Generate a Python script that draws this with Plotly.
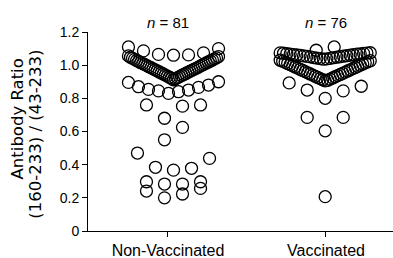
import numpy as np
import plotly.graph_objects as go

# ---------------- data ----------------
categories = ["Non-Vaccinated", "Vaccinated"]
count_labels = ["<i>n</i> = 81", "<i>n</i> = 76"]

nonvacc_ratio = [
    # upper scattered row
    1.11, 1.086, 1.06, 1.062, 1.065, 1.074, 1.10,
    # dense band
    0.912, 0.918, 0.921, 0.925, 0.927, 0.931, 0.934, 0.938, 0.940, 0.944,
    0.947, 0.950, 0.953, 0.957, 0.959, 0.963, 0.966, 0.969, 0.972, 0.975,
    0.978, 0.981, 0.985, 0.987, 0.990, 0.994, 0.997, 1.000, 1.003, 1.006,
    1.009, 1.013, 1.015, 1.019, 1.022, 1.025, 1.028, 1.031, 1.035, 1.038,
    1.041, 1.044, 1.048, 1.052, 1.056,
    # lower values
    0.896, 0.87, 0.854, 0.845, 0.83, 0.84, 0.85, 0.866, 0.88, 0.90,
    0.68, 0.753, 0.76, 0.76,
    0.55, 0.625,
    0.367, 0.378, 0.384, 0.438, 0.47,
    0.283, 0.283, 0.297, 0.297,
    0.20, 0.223, 0.241, 0.257,
]

vacc_ratio = [
    1.09, 1.11,
    1.036, 1.038, 1.040, 1.041, 1.043, 1.045, 1.046, 1.048, 1.050, 1.051,
    1.053, 1.054, 1.056, 1.057, 1.059, 1.060, 1.062, 1.063, 1.064, 1.066,
    1.067, 1.068, 1.070, 1.071, 1.072, 1.073, 1.074, 1.075,
    0.905, 0.909, 0.912, 0.916, 0.919, 0.923, 0.926, 0.930, 0.933, 0.937,
    0.940, 0.944, 0.947, 0.951, 0.954, 0.958, 0.961, 0.965, 0.968, 0.972,
    0.975, 0.979, 0.982, 0.986, 0.989, 0.993, 0.996, 1.000, 1.003, 1.007,
    1.010, 1.014, 1.017, 1.020, 1.024, 1.027, 1.030,
    0.80, 0.845, 0.85, 0.873, 0.893,
    0.604, 0.685, 0.685,
    0.207,
]

y_tickvals = [0, 0.2, 0.4, 0.6, 0.8, 1.0, 1.2]
y_ticktext = ["0", "0.2", "0.4", "0.6", "0.8", "1.0", "1.2"]

# ---------------- layout of the dot columns ----------------
row_edges = [
    [0.27, 0.33, 0.5, 0.65, 0.8, 0.906, 1.058],
    [0.5, 0.75, 0.9, 1.034, 1.085],
]
group_center = [0.035, -0.005]
STEP = 0.114
HALF_MAX = 0.285


def swarm(values, edges, center, step=STEP, half_max=HALF_MAX):
    vals = np.asarray(values, dtype=float)
    bins = np.digitize(vals, edges)
    xs = np.zeros(len(vals))
    for b in np.unique(bins):
        idx = np.where(bins == b)[0]
        idx = idx[np.argsort(vals[idx], kind="stable")]
        n = len(idx)
        s = step if n == 1 else min(step, 2 * half_max / (n - 1))
        for k, i in enumerate(idx):
            if n % 2:
                off = 0 if k == 0 else ((k + 1) // 2 if k % 2 else -(k // 2))
            else:
                off = -(k // 2 + 0.5) if k % 2 == 0 else (k // 2 + 0.5)
            xs[i] = center + off * s
    return xs


fig = go.Figure()
for gi, vals in enumerate([nonvacc_ratio, vacc_ratio]):
    xs = swarm(vals, row_edges[gi], gi + group_center[gi])
    fig.add_trace(go.Scatter(
        x=xs, y=vals, mode="markers", cliponaxis=False,
        marker=dict(symbol="circle-open", size=12, color="black",
                    line=dict(width=1.3, color="black")),
        showlegend=False, hoverinfo="y",
    ))

for gi, lab in enumerate(count_labels):
    fig.add_annotation(x=gi, xref="x", y=1.05, yref="paper", text=lab,
                       showarrow=False, xanchor="center", yanchor="middle",
                       font=dict(family="Liberation Sans", size=15, color="black"))

# y title (two lines)
fig.add_annotation(x=-0.228, xref="paper", y=0.563, yref="paper",
                   text="Antibody Ratio", textangle=-90, showarrow=False,
                   xanchor="center", yanchor="middle",
                   font=dict(family="DejaVu Sans", size=16.5, color="black"))
fig.add_annotation(x=-0.172, xref="paper", y=0.487, yref="paper",
                   text="(160-233) / (43-233)", textangle=-90, showarrow=False,
                   xanchor="center", yanchor="middle",
                   font=dict(family="DejaVu Sans", size=16.5, color="black"))

fig.update_layout(
    width=393, height=258,
    margin=dict(l=88, r=0, t=32, b=27),
    paper_bgcolor="white", plot_bgcolor="white",
    font=dict(family="Liberation Sans", color="black"),
    xaxis=dict(range=[-0.506, 1.424], tickvals=[0, 1], ticktext=categories,
               showgrid=False, zeroline=False, showline=True, linecolor="black",
               linewidth=1, ticks="outside", ticklen=5, tickwidth=1,
               tickcolor="black", tickfont=dict(size=16, family="Liberation Sans"),
               automargin=False, fixedrange=True),
    yaxis=dict(range=[0, 1.2], tickvals=y_tickvals, ticktext=y_ticktext,
               showgrid=False, zeroline=False, showline=True, linecolor="black",
               linewidth=1, ticks="outside", ticklen=5, tickwidth=1,
               tickcolor="black", tickfont=dict(size=14, family="Liberation Sans"),
               automargin=False, fixedrange=True),
)

fig.write_html(
    "out.html",
    config={"displayModeBar": False},
    post_script="document.body.style.margin='0px';document.body.style.padding='0px';"
                "document.body.style.overflow='hidden';",
)
